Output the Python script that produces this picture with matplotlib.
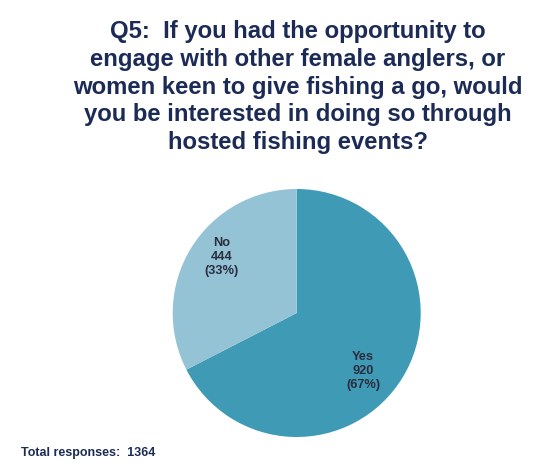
import matplotlib
matplotlib.use('Agg')
import matplotlib.pyplot as plt
import numpy as np

categories = ['Yes', 'No']
counts = [920, 444]
colors = ['#3f9ab5', '#94c3d6']
title_lines = [
    'Q5:  If you had the opportunity to',
    'engage with other female anglers, or',
    'women keen to give fishing a go, would',
    'you be interested in doing so through',
    'hosted fishing events?',
]
# where the labels sit: angle (deg) and fraction of radius
label_angles = [-41, 143]
label_radii = [0.71, 0.755]

navy = '#1c2b56'
plt.rcParams['font.family'] = ['Liberation Sans', 'DejaVu Sans']

W, H = 560, 472
fig = plt.figure(figsize=(W / 100, H / 100), dpi=100)
fig.patch.set_facecolor('white')

cx, cy, r = 296.7, 472 - 313, 124
ax = fig.add_axes([(cx - r) / W, (cy - r) / H, 2 * r / W, 2 * r / H])
ax.pie(counts, colors=colors, startangle=90, counterclock=False,
       wedgeprops=dict(linewidth=0))
ax.set_xlim(-1, 1)
ax.set_ylim(-1, 1)
ax.set_aspect('equal')
ax.axis('off')

total = sum(counts)
for cat, n, ang, rr in zip(categories, counts, label_angles, label_radii):
    a = np.deg2rad(ang)
    ax.text(rr * np.cos(a), rr * np.sin(a),
            f'{cat}\n{n}\n({n / total:.0%})',
            ha='center', va='center', fontsize=9.2, fontweight='bold',
            color='#2a2d3e', linespacing=1.22)

fig.text(298 / W, 1 - 87 / H, '\n'.join(title_lines), ha='center', va='center',
         fontsize=17.2, fontweight='bold', color=navy, linespacing=1.27)

fig.text(21 / W, 1 - 453 / H, f'Total responses:  {total}', ha='left',
         va='center', fontsize=9, fontweight='bold', color=navy)

fig.savefig('out.png', dpi=100, facecolor='white')
